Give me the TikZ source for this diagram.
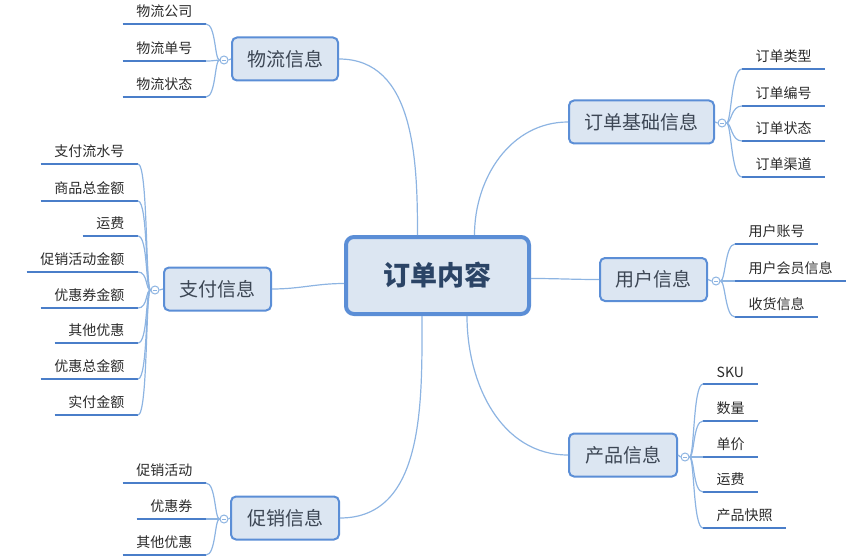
\documentclass[tikz,border=0pt]{standalone}
\usepackage{fontspec}
\setmainfont{Noto Sans CJK SC}
\definecolor{boxfill}{HTML}{DCE6F2}
\definecolor{boxline}{HTML}{5B8ED6}
\definecolor{connc}{HTML}{8DB4E2}
\definecolor{leafc}{HTML}{4A7EC9}
\definecolor{txt}{HTML}{2A2A2A}
\definecolor{btxt}{HTML}{3C4654}
\definecolor{ctxt}{HTML}{2B4466}
\tikzset{
  centerbox/.style={draw=boxline, fill=boxfill, line width=4pt, rounded corners=8pt,
    minimum width=183pt, minimum height=77pt, inner sep=0pt, text=ctxt,
    font=\fontsize{27}{32}\selectfont\bfseries},
  branchbox/.style={draw=boxline, fill=boxfill, line width=2pt, rounded corners=5pt,
    minimum height=43pt, inner sep=0pt, text=btxt, font=\fontsize{19}{23}\selectfont},
  hubdot/.style={circle, draw=connc, fill=white, line width=1pt, minimum size=8pt, inner sep=0pt},
  leafL/.style={anchor=south east, inner xsep=13.5pt, inner ysep=6.5pt, text=txt,
    font=\fontsize{14}{17}\selectfont},
  leafR/.style={anchor=south west, inner xsep=13.5pt, inner ysep=6.5pt, text=txt,
    font=\fontsize{14}{17}\selectfont},
  uline/.style={draw=leafc, line width=2.6pt},
  connline/.style={draw=connc, line width=1.2pt},
}
\begin{document}
\begin{tikzpicture}[x=1pt,y=-1pt]
\useasboundingbox (0,0) rectangle (865,559);

% center
\node[centerbox] (c) at (437.5,275.5) {订单内容};

% branches
\node[branchbox, minimum width=106pt] (wl) at (285,59) {物流信息};
\node[branchbox, minimum width=145pt] (dd) at (641.5,122) {订单基础信息};
\node[branchbox, minimum width=107pt] (yh) at (653.5,279.5) {用户信息};
\node[branchbox, minimum width=108pt] (cp) at (623,455) {产品信息};
\node[branchbox, minimum width=107pt] (zf) at (217.5,289) {支付信息};
\node[branchbox, minimum width=108pt] (cx) at (285,518) {促销信息};

% main connectors
\draw[connline] (wl.east) to[out=0,in=90] ([xshift=-20pt]c.north);
\draw[connline] ([xshift=37pt]c.north) to[out=90,in=180] (dd.west);
\draw[connline] ([yshift=-3pt]c.east) to[out=0,in=180] (yh.west);
\draw[connline] ([xshift=29.5pt]c.south) to[out=-90,in=180] (cp.west);
\draw[connline] (zf.east) to[out=0,in=180] ([yshift=-8pt]c.west);
\draw[connline] (cx.east) to[out=0,in=-90] ([xshift=-15.5pt]c.south);

% hubs
\node[hubdot] (wlh) at (224,60) {};
\node[hubdot] (ddh) at (722,123) {};
\node[hubdot] (yhh) at (716,281) {};
\node[hubdot] (cph) at (685,457) {};
\node[hubdot] (zfh) at (155,290) {};
\node[hubdot] (cxh) at (224,519) {};
\draw[connline] (wl.west) -- (wlh.east);
\draw[connline] (dd.east) -- (ddh.west);
\draw[connline] (yh.east) -- (yhh.west);
\draw[connline] (cp.east) -- (cph.west);
\draw[connline] (zf.west) -- (zfh.east);
\draw[connline] (cx.west) -- (cxh.east);
\foreach \h in {wlh,ddh,yhh,cph,zfh,cxh}
  \draw[draw=connc, line width=0.8pt] ([xshift=-2pt]\h.center) -- ([xshift=2pt]\h.center);

% leaves: 物流
\node[leafL] (wl1) at (206,24) {物流公司};
\node[leafL] (wl2) at (206,61) {物流单号};
\node[leafL] (wl3) at (206,97) {物流状态};
% 支付
\node[leafL] (zf1) at (138,164) {支付流水号};
\node[leafL] (zf2) at (138,201) {商品总金额};
\node[leafL] (zf3) at (138,236) {运费};
\node[leafL] (zf4) at (138,272) {促销活动金额};
\node[leafL] (zf5) at (138,308) {优惠券金额};
\node[leafL] (zf6) at (138,343) {其他优惠};
\node[leafL] (zf7) at (138,379) {优惠总金额};
\node[leafL] (zf8) at (138,415) {实付金额};
% 促销
\node[leafL] (cx1) at (206,483) {促销活动};
\node[leafL] (cx2) at (206,519) {优惠券};
\node[leafL] (cx3) at (206,555) {其他优惠};
% 订单基础
\node[leafR] (dd1) at (742,69) {订单类型};
\node[leafR] (dd2) at (742,106) {订单编号};
\node[leafR] (dd3) at (742,141) {订单状态};
\node[leafR] (dd4) at (742,177) {订单渠道};
% 用户
\node[leafR] (yh1) at (735,244) {用户账号};
\node[leafR] (yh2) at (735,281) {用户会员信息};
\node[leafR] (yh3) at (735,317) {收货信息};
% 产品
\node[leafR] (cp1) at (703,384) {SKU};
\node[leafR] (cp2) at (703,421) {数量};
\node[leafR] (cp3) at (703,457) {单价};
\node[leafR] (cp4) at (703,492) {运费};
\node[leafR] (cp5) at (703,528) {产品快照};

% underlines
\foreach \n in {wl1,wl2,wl3,zf1,zf2,zf3,zf4,zf5,zf6,zf7,zf8,cx1,cx2,cx3,dd1,dd2,dd3,dd4,yh1,yh2,yh3,cp1,cp2,cp3,cp4,cp5}
  \draw[uline] (\n.south west) -- (\n.south east);

% leaf connectors
\foreach \n in {wl1,wl2,wl3}
  \draw[connline] (wlh.west) .. controls +(-5,0) and +(10,0) .. (\n.south east);
\foreach \n in {zf1,zf2,zf3,zf4,zf5,zf6,zf7,zf8}
  \draw[connline] (zfh.west) .. controls +(-5,0) and +(10,0) .. (\n.south east);
\foreach \n in {cx1,cx2,cx3}
  \draw[connline] (cxh.west) .. controls +(-5,0) and +(10,0) .. (\n.south east);
\foreach \n in {dd1,dd2,dd3,dd4}
  \draw[connline] (ddh.east) .. controls +(5,0) and +(-11,0) .. (\n.south west);
\foreach \n in {yh1,yh2,yh3}
  \draw[connline] (yhh.east) .. controls +(5,0) and +(-10,0) .. (\n.south west);
\foreach \n in {cp1,cp2,cp3,cp4,cp5}
  \draw[connline] (cph.east) .. controls +(5,0) and +(-10,0) .. (\n.south west);
\end{tikzpicture}
\end{document}
